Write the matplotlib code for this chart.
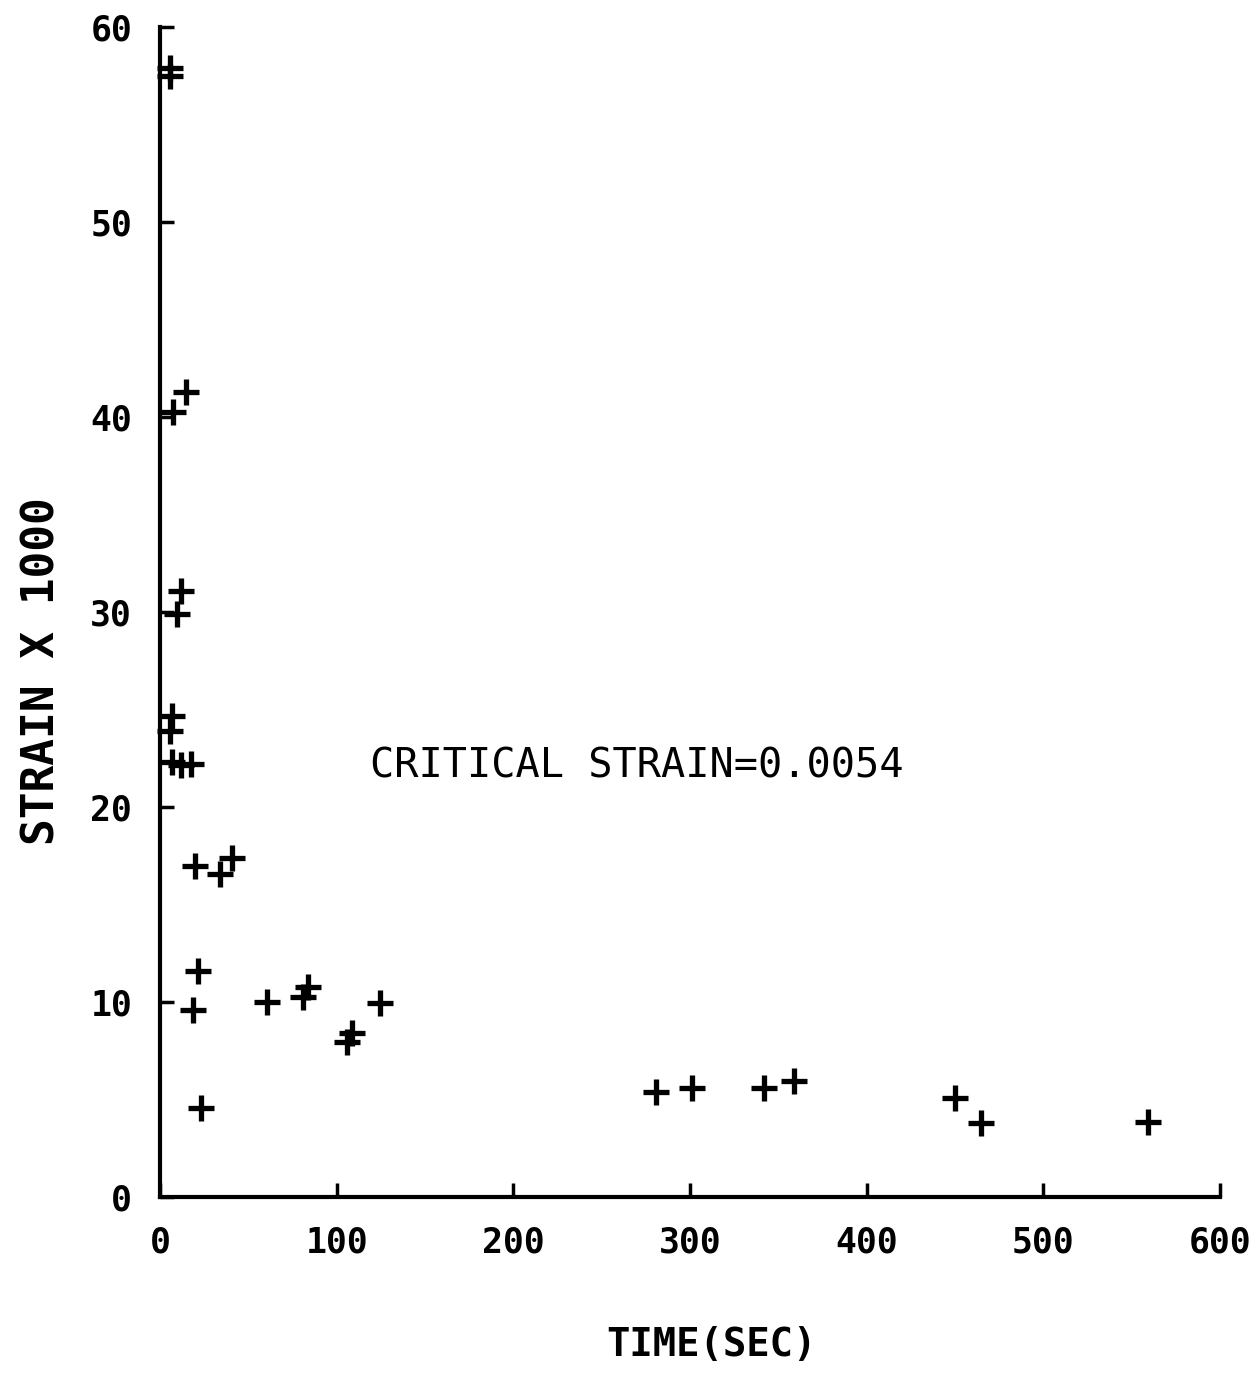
import matplotlib
matplotlib.use('Agg')
import matplotlib.pyplot as plt

# Data
time_sec = [5.5, 5.5, 7.7, 14.5, 9.6, 12, 7, 5.5, 6.8, 12, 17.6,
            20, 34, 41, 21.5, 19, 23, 60.5, 81, 84, 106, 109, 124.5,
            281, 301, 342, 359, 450, 465, 559]
strain_x1000 = [57.9, 57.5, 40.3, 41.3, 29.9, 31.1, 24.7, 23.9, 22.3, 22.15, 22.2,
                17.0, 16.6, 17.4, 11.6, 9.6, 4.6, 10.0, 10.25, 10.8, 7.95, 8.4, 9.95,
                5.4, 5.6, 5.6, 5.95, 5.1, 3.8, 3.85]

x_ticks = [0, 100, 200, 300, 400, 500, 600]
y_ticks = [0, 10, 20, 30, 40, 50, 60]
note = 'CRITICAL STRAIN=0.0054'

plt.rcParams['font.family'] = ['DejaVu Sans Mono', 'DejaVu Sans']

fig = plt.figure(figsize=(12.59, 13.73), dpi=100)
ax = fig.add_axes([0.127, 0.128, 0.842, 0.852])

ax.plot(time_sec, strain_x1000, linestyle='none', marker='+', color='black',
        markersize=19, markeredgewidth=3.8, clip_on=False)

ax.set_xlim(0, 600)
ax.set_ylim(0, 60)
ax.set_xticks(x_ticks)
ax.set_yticks(y_ticks)

for side in ['top', 'right']:
    ax.spines[side].set_visible(False)
for side in ['left', 'bottom']:
    ax.spines[side].set_linewidth(3)

ax.tick_params(direction='in', length=10, width=2.5, labelsize=25, pad=20)
for lbl in ax.get_xticklabels() + ax.get_yticklabels():
    lbl.set_fontweight('bold')

ax.set_xlabel('TIME(SEC)', fontsize=28, fontweight='bold')
ax.set_ylabel('STRAIN X 1000', fontsize=32, fontweight='bold')
ax.xaxis.set_label_coords(0.52, -0.11)
ax.yaxis.set_label_coords(-0.091, 0.45)

ax.text(119, 22.1, note, fontsize=29, va='center', ha='left')

fig.savefig('out.png', dpi=100)
